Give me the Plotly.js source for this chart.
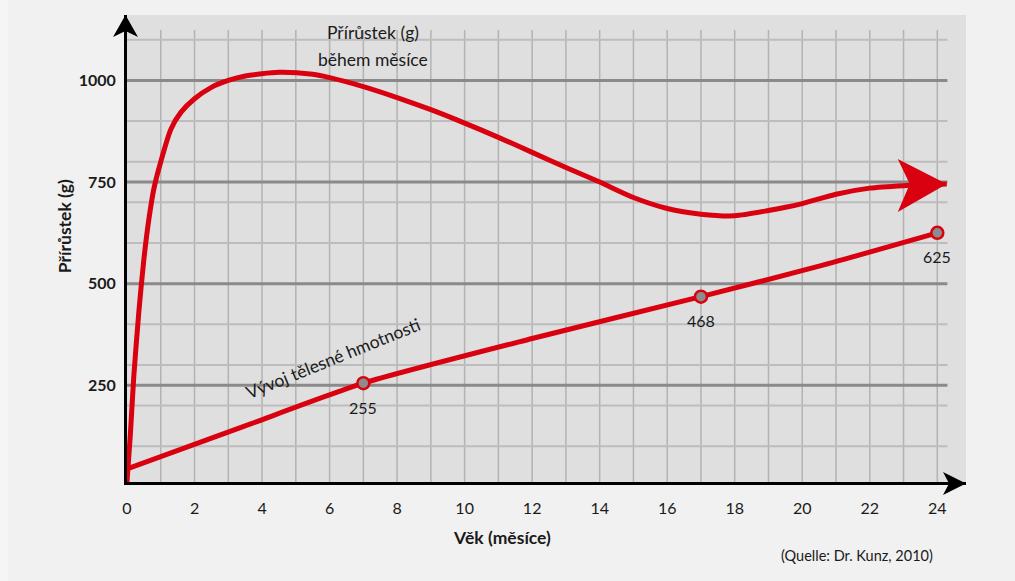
<!DOCTYPE html>
<html>
<head>
<meta charset="utf-8">
<script src="https://cdn.plot.ly/plotly-3.0.1.min.js"></script>
<style>
  html, body { margin: 0; padding: 0; background: #f5f5f5; }
  #chart { position: absolute; left: 8px; top: 0; width: 1007px; height: 581px; }
</style>
</head>
<body>
<div id="chart"></div>
<script>
// ---- data ----
const gainMonths = [0, 0.1, 0.2, 0.35, 0.5, 0.65, 0.8, 1.0, 1.3, 1.6, 2.0, 2.5, 3.0, 3.5, 4.5, 5.5, 6.0, 7, 8, 9, 10, 11, 12, 13, 14, 15, 16, 17, 18, 19, 20, 21, 22, 23, 24.28];
const gainValues = [12, 130, 270, 430, 560, 660, 735, 800, 880, 922, 955, 983, 1000, 1011, 1020, 1015, 1007, 985, 958, 928, 895, 860, 823, 786, 750, 712, 685, 671, 667, 680, 697, 720, 735, 741, 745];

const weightMonths = [0, 3.5, 7, 12, 17, 20.5, 24];
const weightValues = [44, 150, 255, 365, 468, 543, 625];

const markMonths = [7, 17, 24];
const markValues = [255, 468, 625];
const markLabels = ['255', '468', '625'];

const xTicks = [0, 2, 4, 6, 8, 10, 12, 14, 16, 18, 20, 22, 24];
const yTicks = [250, 500, 750, 1000];
const yTickLabels = ['250', '500', '750', '1000'];
const gridMonths = [1,2,3,4,5,6,7,8,9,10,11,12,13,14,15,16,17,18,19,20,21,22,23,24];
const minorY = [100, 200, 300, 400, 600, 700, 800, 900, 1100];
const majorY = [250, 500, 750, 1000];

// ---- styles ----
const FONT = 'Lato, "Noto Sans", sans-serif';
const RED = '#d9000f';
const INK = '#1a1a1a';
const gridTop = 1124;
const gridRight = 24.3;

const shapes = [];
gridMonths.forEach(m => shapes.push({type:'line', xref:'x', yref:'y', x0:m, x1:m, y0:12, y1:gridTop, layer:'below', line:{color:'#b3b3b3', width:1.5}}));
minorY.forEach(v => shapes.push({type:'line', xref:'x', yref:'y', x0:0, x1:gridRight, y0:v, y1:v, layer:'below', line:{color:'#bdbdbd', width:2}}));
majorY.forEach(v => shapes.push({type:'line', xref:'x', yref:'y', x0:0, x1:gridRight, y0:v, y1:v, layer:'below', line:{color:'#8a8a8a', width:3}}));

// axis arrowheads (pixel offsets, positive y = up)
shapes.push({type:'path', xref:'paper', yref:'paper', xsizemode:'pixel', ysizemode:'pixel', xanchor:0, yanchor:1,
  path:'M-1.5,0 L-14,-22 L-1.5,-16 L11,-22 Z', fillcolor:'#000', line:{width:0}, layer:'above'});
shapes.push({type:'path', xref:'paper', yref:'paper', xsizemode:'pixel', ysizemode:'pixel', xanchor:1, yanchor:0,
  path:'M0,-1.5 L-23,10 L-17,-1.5 L-23,-13 Z', fillcolor:'#000', line:{width:0}, layer:'above'});
// red arrowhead at end of the gain curve
shapes.push({type:'path', xref:'x', yref:'y', xsizemode:'pixel', ysizemode:'pixel',
  xanchor: gainMonths[gainMonths.length-1], yanchor: gainValues[gainValues.length-1],
  path:'M0,0 L-49,25 L-37,0 L-49,-28 Z', fillcolor:RED, line:{width:0}, layer:'above'});

const C = {xanchor:'center', yanchor:'middle', showarrow:false};
const annotations = [];
markMonths.forEach((m, i) => annotations.push(Object.assign({x:m, y:markValues[i], xref:'x', yref:'y', text:markLabels[i], yshift:-24, font:{family:FONT, size:16, color:INK}}, C)));
annotations.push(Object.assign({x:7.28, y:1117, xref:'x', yref:'y', text:'Přírůstek (g)', font:{family:FONT, size:17.5, color:INK}}, C));
annotations.push(Object.assign({x:7.28, y:1051, xref:'x', yref:'y', text:'během měsíce', font:{family:FONT, size:17.5, color:INK}}, C));
annotations.push(Object.assign({x:6.09, y:317, xref:'x', yref:'y', text:'Vývoj tělesné hmotnosti', textangle:-22, font:{family:FONT, size:17.5, color:INK}}, C));
annotations.push(Object.assign({x:-0.075, y:0.548, xref:'paper', yref:'paper', text:'Přírůstek (g)', textangle:-90, font:{family:FONT, size:17.5, color:INK, weight:'bold'}}, C));
annotations.push(Object.assign({x:0.447, y:-0.118, xref:'paper', yref:'paper', text:'Věk (měsíce)', font:{family:FONT, size:17.5, color:INK, weight:'bold'}}, C));
annotations.push(Object.assign({x:0.870, y:-0.158, xref:'paper', yref:'paper', text:'(Quelle: Dr. Kunz, 2010)', font:{family:FONT, size:14.5, color:INK}}, C));

const traces = [
  {x: gainMonths, y: gainValues, type:'scatter', mode:'lines', line:{color:RED, width:5, shape:'spline', smoothing:0.7}, hoverinfo:'skip'},
  {x: weightMonths, y: weightValues, type:'scatter', mode:'lines', line:{color:RED, width:5, shape:'spline', smoothing:0.6}, hoverinfo:'skip'},
  {x: markMonths, y: markValues, type:'scatter', mode:'markers', marker:{size:12, color:'#8c8c8c', line:{color:RED, width:2.5}}, hoverinfo:'skip'}
];

const layout = {
  width: 1007, height: 581,
  margin: {l:119, r:49, t:15, b:99},
  paper_bgcolor: '#f1f1f1',
  plot_bgcolor: '#dfdfdf',
  showlegend: false,
  xaxis: {range:[0, 24.85], showgrid:false, zeroline:false, showline:true, linecolor:'#000', linewidth:3,
    tickvals: xTicks, ticks:'', ticklabelstandoff: 10, tickfont:{family:FONT, size:16, color:INK}, fixedrange:true},
  yaxis: {range:[12, 1161], showgrid:false, zeroline:false, showline:true, linecolor:'#000', linewidth:3,
    tickvals: yTicks, ticktext: yTickLabels, ticks:'', ticklabelstandoff: 5, tickfont:{family:FONT, size:16, color:INK, weight:'bold'}, fixedrange:true},
  shapes: shapes,
  annotations: annotations
};

Plotly.newPlot('chart', traces, layout, {displayModeBar:false, staticPlot:true});
</script>
</body>
</html>
